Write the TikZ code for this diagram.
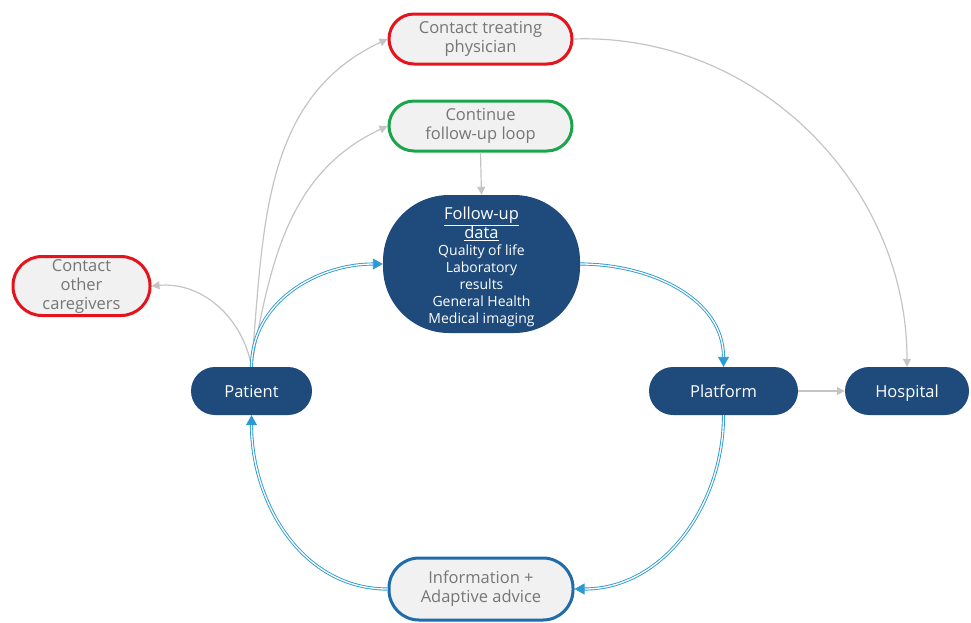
\documentclass[tikz,border=0pt]{standalone}
\usepackage{fontspec}
\setmainfont{Open Sans}
\usetikzlibrary{arrows.meta}
\definecolor{navy}{HTML}{1E4A7C}
\definecolor{flowblue}{HTML}{2B9AD2}
\definecolor{infoblue}{HTML}{1F6CA8}
\definecolor{alertred}{HTML}{E3141B}
\definecolor{okgreen}{HTML}{1BA54B}
\definecolor{lightfill}{HTML}{F1F1F1}
\definecolor{greytext}{HTML}{767676}
\definecolor{greyline}{HTML}{C4C4C4}
\tikzset{
  darkbox/.style={draw=none, fill=navy, text=white, rounded corners=24pt,
    minimum height=48pt, inner sep=0pt, text height=12pt, text depth=0pt,
    font=\fontsize{16.5}{19}\selectfont},
  lightbox/.style={fill=lightfill, text=greytext, line width=3pt, rounded corners=25pt,
    minimum height=50pt, minimum width=183pt, inner sep=0pt, align=center,
    font=\fontsize{16.5}{19}\selectfont},
  flow/.style={draw=flowblue, double=white, double distance=1.3pt, line width=0.9pt,
    -{Triangle[length=10pt,width=11pt,fill=flowblue]}},
  thin/.style={draw=greyline, line width=1.2pt, -{Triangle[length=8pt,width=8pt,fill=greyline]}}
}
\begin{document}
\begin{tikzpicture}[x=1pt,y=-1pt]
\useasboundingbox (0,0) rectangle (971,622);
\node[lightbox, draw=alertred] (phys) at (480.5,39) {Contact treating\\physician};
\node[lightbox, draw=okgreen] (cont) at (480.5,126) {Continue\\follow-up loop};
\node[lightbox, draw=alertred, minimum width=137pt, minimum height=59pt, rounded corners=29pt] (care) at (81.5,286) {Contact\\other\\caregivers};
\node[lightbox, draw=infoblue, minimum width=184pt, minimum height=62pt, rounded corners=30pt] (info) at (481,589) {Information +\\Adaptive advice};
\node[fill=navy, rounded corners=66pt, minimum width=197pt, minimum height=138pt, inner sep=0pt] (data) at (481.5,264) {};
\node[text=white, align=center, font=\fontsize{14}{17}\selectfont, inner sep=0pt] (datatext) at (481.5,267) {\fontsize{16.5}{19}\selectfont\underline{Follow-up}\\[-1pt]\fontsize{16.5}{19}\selectfont\underline{data}\\Quality of life\\Laboratory\\results\\General Health\\Medical imaging};
\node[darkbox, minimum width=121pt] (pat) at (251.5,391) {Patient};
\node[darkbox, minimum width=149pt] (plat) at (723.5,391) {Platform};
\node[darkbox, minimum width=124pt] (hosp) at (907,391) {Hospital};
% grey connectors
\draw[thin] (pat.north) to[out=85,in=205,looseness=1.0] (phys.west);
\draw[thin] (pat.north) to[out=80,in=205,looseness=1.0] (cont.west);
\draw[thin] (pat.north) to[out=100,in=5,looseness=1.0] (care.east);
\draw[thin] (cont.south) -- (data.north);
\draw[thin] (phys.east) to[out=2,in=90,looseness=1.0] (hosp.north);
\draw[thin] (plat.east) -- (hosp.west);
% blue flow
\draw[flow] (pat.north) to[out=90,in=180] (data.west);
\draw[flow] (data.east) to[out=0,in=90] (plat.north);
\draw[flow] (plat.south) to[out=-90,in=0] (info.east);
\draw[flow] (info.west) to[out=180,in=-90] (pat.south);
\end{tikzpicture}
\end{document}
